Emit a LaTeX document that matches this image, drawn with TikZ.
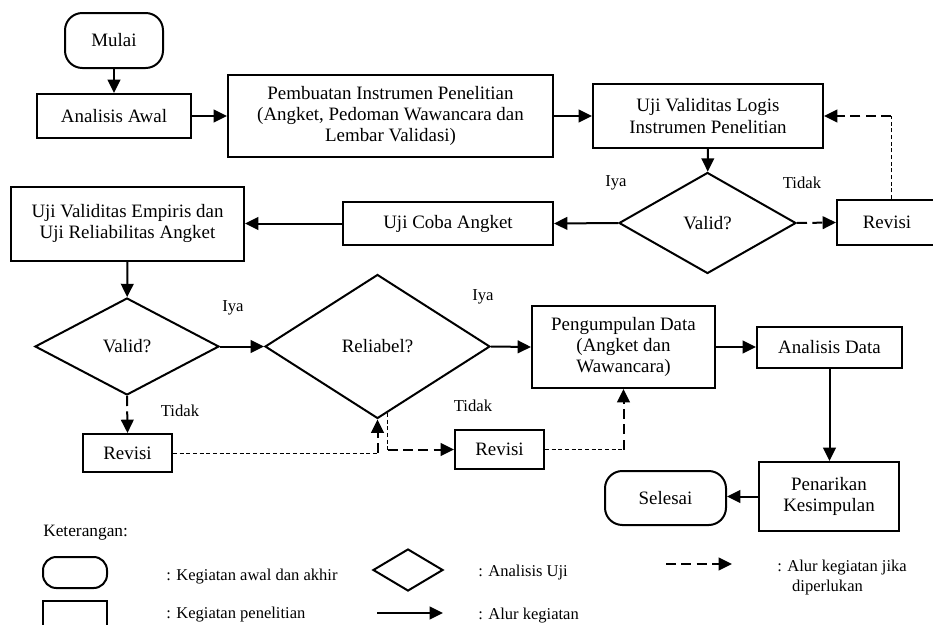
\documentclass[tikz,border=0pt]{standalone}
\usepackage{fontspec}
\setmainfont{Liberation Serif}
\usetikzlibrary{shapes,arrows.meta,calc}

\begin{document}
\begin{tikzpicture}[x=0.75pt,y=-0.75pt,
    block/.style ={rectangle, draw=black, line width=1.5pt, fill=white,
      align=center, inner sep=2pt, font=\fontsize{14.2}{16}\selectfont},
    terminal/.style ={block, rounded corners=13pt},
    decision/.style ={diamond, draw=black, line width=1.5pt, fill=white,
      inner sep=0pt, align=center, font=\fontsize{14.2}{16}\selectfont},
    label_small/.style ={font=\fontsize{12.5}{14}\selectfont},
    legend_text/.style ={anchor=west, inner sep=0pt, align=left,
      font=\fontsize{12.4}{15}\selectfont},
    line/.style ={draw, line width=1.5pt, -{Triangle[length=10pt,width=9.5pt]}},
    line_dash/.style ={line, dash pattern=on 7.5pt off 4pt},
    line_thin/.style ={draw, line width=0.75pt, dash pattern=on 3pt off 2pt}]
    \useasboundingbox (0,0) rectangle (933,625);
    % outlining the flowchart
    \node [terminal, minimum width=73.5pt, minimum height=41.25pt] (mulai) at (114,40.5) {Mulai};
    \node [block, minimum width=115.5pt, minimum height=33pt] (awal) at (114,116) {Analisis Awal};
    \node [block, minimum width=243.75pt, minimum height=61.5pt] (buat) at (390.5,116)
      {Pembuatan Instrumen Penelitian\\(Angket, Pedoman Wawancara dan\\Lembar Validasi)};
    \node [block, minimum width=172.5pt, minimum height=48pt] (logis) at (708,116)
      {Uji Validitas Logis\\Instrumen Penelitian};
    \node [decision, minimum width=132.75pt, minimum height=75.75pt] (valid1) at (707.5,223) {Valid?};
    \node [block, minimum width=75pt, minimum height=33.75pt] (revisi1) at (887,222.5) {Revisi};
    \node [block, minimum width=157.5pt, minimum height=32.25pt] (coba) at (448,223.5) {Uji Coba Angket};
    \node [block, minimum width=174.75pt, minimum height=55.5pt] (empiris) at (127.5,223.5)
      {Uji Validitas Empiris dan\\Uji Reliabilitas Angket};
    \node [decision, minimum width=138pt, minimum height=72.75pt] (valid2) at (127,346.5) {Valid?};
    \node [decision, minimum width=168.75pt, minimum height=108pt] (reliabel) at (377.5,346.5) {Reliabel?};
    \node [block, minimum width=137.25pt, minimum height=61.5pt] (kumpul) at (623.5,347)
      {Pengumpulan Data\\(Angket dan\\Wawancara)};
    \node [block, minimum width=108.75pt, minimum height=30.75pt] (analisis) at (829.5,347) {Analisis Data};
    \node [block, minimum width=105pt, minimum height=51.75pt] (tarik) at (829,496.5)
      {Penarikan\\Kesimpulan};
    \node [terminal, minimum width=90.75pt, minimum height=40.5pt] (selesai) at (665.5,498) {Selesai};
    \node [block, minimum width=66.75pt, minimum height=28.5pt] (revisi2) at (127.5,453) {Revisi};
    \node [block, minimum width=66.75pt, minimum height=29.25pt] (revisi3) at (499.5,449.5) {Revisi};
    % branch labels
    \node [label_small] (iya1) at (616,183) {Iya};
    \node [label_small] (tidak1) at (802,183) {Tidak};
    \node [label_small] (iya2) at (233,308) {Iya};
    \node [label_small] (iya3) at (483,297) {Iya};
    \node [label_small] (tidak2) at (180,411) {Tidak};
    \node [label_small] (tidak3) at (473,406) {Tidak};
    % corners of the revision paths
    \coordinate (r1up) at (891,116);
    \coordinate (r2corner) at (reliabel.south |- revisi2.east);
    \coordinate (r3top) at ($(reliabel.south)!0.09!(reliabel.east)$);
    \coordinate (r3corner) at (r3top |- revisi3.west);
    \coordinate (r4corner) at (kumpul.south |- revisi3.east);
    % connecting nodes with paths
    \begin{scope}[every path/.style=line]
      \path (mulai)     -- (awal);
      \path (awal)      -- (buat);
      \path (buat)      -- (logis);
      \path (logis)     -- (valid1);
      \path (valid1.west) -- (coba.east);
      \path (coba.west) -- (empiris.east);
      \path (empiris)   -- (valid2);
      \path (valid2.east) -- (reliabel.west);
      \path (reliabel.east) -- (kumpul.west);
      \path (kumpul)    -- (analisis);
      \path (analisis.south) -- (analisis.south |- tarik.north);
      \path (tarik.west) -- (tarik.west -| selesai.east);
    \end{scope}
    % revision paths
    \path [line_dash] (valid1.east) -- (revisi1.west);
    \path [line_thin] (revisi1.north -| r1up) -- (r1up);
    \path [line_dash] (r1up) -- (logis.east);
    \path [line_dash] (valid2.south) -- (revisi2.north);
    \path [line_thin] (revisi2.east) -- (r2corner);
    \path [line_dash] (r2corner) -- (reliabel.south);
    \path [line_thin] (r3top) -- (r3corner);
    \path [line_dash] (r3corner) -- (revisi3.west);
    \path [line_thin] (revisi3.east) -- (r4corner);
    \path [line_dash] (r4corner) -- (kumpul.south);
    % legend
    \node [anchor=west, inner sep=0pt, font=\fontsize{13}{15}\selectfont] (ket) at (43,533) {Keterangan:};
    \node [terminal, rounded corners=10pt, minimum width=48pt, minimum height=23.25pt] (legterm) at (75,572.5) {};
    \node [block, minimum width=48pt, minimum height=23.25pt] (legblock) at (75,616.5) {};
    \node [decision, minimum width=52.5pt, minimum height=31.5pt] (legdec) at (408,570) {};
    \coordinate (lega1) at (377,613);
    \coordinate (lega2) at (443,613);
    \coordinate (legd1) at (666,564);
    \coordinate (legd2) at (732,564);
    \path [line] (lega1) -- (lega2);
    \path [line_dash] (legd1) -- (legd2);
    \node [legend_text] (legt1) at (166,577) {: Kegiatan awal dan akhir};
    \node [legend_text] (legt2) at (166,615) {: Kegiatan penelitian};
    \node [legend_text] (legt3) at (478,573) {: Analisis Uji};
    \node [legend_text] (legt4) at (478,616) {: Alur kegiatan};
    \node [legend_text] (legt5) at (777,578) {: Alur kegiatan jika\\\hspace*{0.9em}diperlukan};
\end{tikzpicture}
\end{document}
